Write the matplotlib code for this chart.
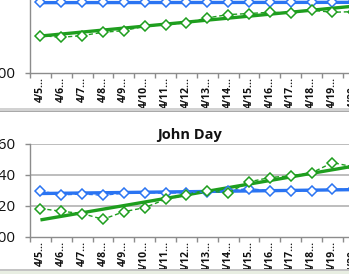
import matplotlib
matplotlib.use("Agg")
import matplotlib.pyplot as plt
from matplotlib.ticker import MultipleLocator, FixedLocator
from matplotlib.patches import Rectangle
import numpy as np

dates = ["4/5", "4/6", "4/7", "4/8", "4/9", "4/10", "4/11", "4/12",
         "4/13", "4/14", "4/15", "4/16", "4/17", "4/18", "4/19", "4/20"]
tick_labels = [d + "…" for d in dates]

# top panel (title cropped away)
top_blue = [145.2, 145.2, 145.2, 145.2, 145.2, 145.2, 145.2, 145.2,
            145.2, 145.2, 145.2, 145.2, 145.2, 145.2, 145.2, 145.2]
top_blue_trend = [145.1, 145.3]
top_green = [123.9, 122.8, 123.9, 126.0, 127.1, 129.9, 131.0, 132.1,
             135.3, 137.4, 138.1, 138.9, 138.5, 140.2, 138.9, 139.3]
top_green_trend = [123.6, 142.8]

# bottom panel: John Day
jd_blue = [129.5, 126.9, 127.5, 126.7, 128.0, 128.4, 128.0, 128.4,
           128.8, 129.5, 131.0, 129.5, 129.5, 129.5, 130.6, 130.5]
jd_blue_trend = [127.8, 130.3]
jd_green = [118.1, 116.4, 114.9, 111.2, 116.1, 118.7, 124.1, 126.7,
            129.5, 128.2, 135.3, 138.1, 139.2, 141.1, 147.7, 145.0]
jd_green_trend = [110.8, 145.4]

BLUE = "#2a74f2"
GREEN = "#1e9e1e"
AXC = "#8c8c8c"
GRID = "#bdbdbd"

plt.rcParams["font.family"] = ["Open Sans", "DejaVu Sans"]

W, H = 349, 274
fig = plt.figure(figsize=(W / 100, H / 100), dpi=100)
fig.patch.set_facecolor("white")

def px_axes(left, top, right, bottom):
    return fig.add_axes([left / W, 1 - bottom / H, (right - left) / W, (bottom - top) / H])

n = len(dates)
x = np.arange(n)
step = 20.86
left_px = 30
right_px = left_px + n * step

def style(ax, ylim, gridlines, major):
    ax.set_xlim(-0.5, n - 0.5)
    ax.set_ylim(*ylim)
    ax.set_facecolor("none")
    for s in ["top", "right"]:
        ax.spines[s].set_visible(False)
    for s in ["left", "bottom"]:
        ax.spines[s].set_color(AXC)
        ax.spines[s].set_linewidth(1.0)
    ax.yaxis.set_major_locator(MultipleLocator(major))
    ax.yaxis.set_major_formatter(plt.FuncFormatter(lambda v, p: f"{v:.0f}"))
    ax.tick_params(axis="y", length=3.5, width=1, color=AXC, pad=7,
                   labelsize=11, labelcolor="#111111")
    ax.set_xticks(x)
    ax.set_xticklabels(tick_labels, rotation=90, fontsize=7.5, fontweight="bold",
                       va="top", ha="center")
    ax.tick_params(axis="x", which="major", length=0, pad=3, labelcolor="#111111")
    ax.xaxis.set_minor_locator(FixedLocator(np.arange(-0.5, n, 1.0)))
    ax.tick_params(axis="x", which="minor", length=3.5, width=1, color=AXC)
    if gridlines:
        for g in gridlines:
            ax.axhline(g, color=GRID, lw=1.4, zorder=0.5)

def draw(ax, blue, blue_t, green, green_t):
    ax.plot([0, n - 1], blue_t, color=BLUE, lw=2.4, zorder=2, solid_capstyle="butt")
    ax.plot([0, n - 1], green_t, color=GREEN, lw=2.4, zorder=2, solid_capstyle="butt")
    ax.plot(x, blue, color=BLUE, lw=1.0, ls=(0, (3, 2)), marker="D", ms=5.2,
            mfc="white", mec=BLUE, mew=1.1, zorder=3, clip_on=False)
    ax.plot(x, green, color=GREEN, lw=1.0, ls=(0, (3, 2)), marker="D", ms=5.2,
            mfc="white", mec=GREEN, mew=1.1, zorder=3, clip_on=False)

# top panel
ax1 = px_axes(left_px, 72.7 - 93.2, right_px, 72.7)
style(ax1, (100, 160), None, 100)
draw(ax1, top_blue, top_blue_trend, top_green, top_green_trend)

# bottom panel
ax2 = px_axes(left_px, 143.5, right_px, 236.7)
style(ax2, (100, 160), [120, 140, 160], 20)
draw(ax2, jd_blue, jd_blue_trend, jd_green, jd_green_trend)

fig.text(190 / W, 1 - 134.5 / H, "John Day", ha="center", va="center",
         fontsize=10.5, fontweight="bold", color="#111111")

# chart borders (cropped Excel chart frames)
fig.patches.append(Rectangle((0, 1 - 111 / H), 1, 3.3 / H, transform=fig.transFigure,
                             facecolor="#d2d2d2", edgecolor="none", zorder=5))
fig.patches.append(Rectangle((0, 1 - 112.3 / H), 1, 1.3 / H, transform=fig.transFigure,
                             facecolor="#a9a9a9", edgecolor="none", zorder=5))
fig.patches.append(Rectangle((0, 0), 1, 4 / H, transform=fig.transFigure,
                             facecolor="#e8eee2", edgecolor="none", zorder=5))
fig.patches.append(Rectangle((0, 3.5 / H), 1, 1.2 / H, transform=fig.transFigure,
                             facecolor="#c4c4c4", edgecolor="none", zorder=5))

fig.savefig("out.png", dpi=100, facecolor="white")
